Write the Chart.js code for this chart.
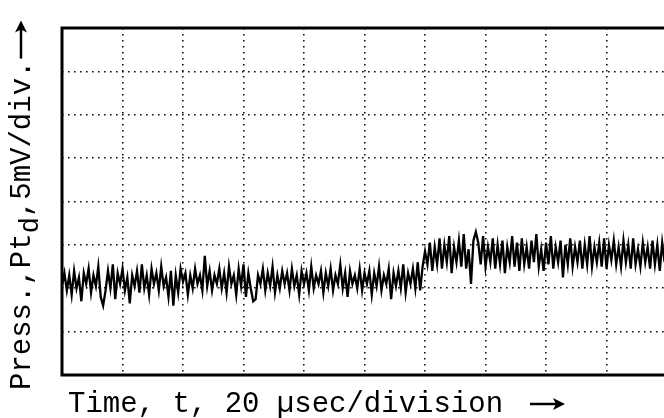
<!DOCTYPE html>
<html>
<head>
<meta charset="utf-8">
<script src="https://cdn.jsdelivr.net/npm/chart.js@4"></script>
<style>
  html, body { margin: 0; padding: 0; background: #fff; }
  #wrap { width: 664px; height: 418px; }
</style>
</head>
<body>
<div id="wrap"><canvas id="scope"></canvas></div>
<script>
// time axis in divisions (20 usec/div), one sample every 0.04 div
const sampleStep = 0.04;
const xTicks = [0, 1, 2, 3, 4, 5, 6, 7, 8, 9];
const yTicks = [0, 1, 2, 3, 4, 5, 6, 7, 8];

// trace before the pressure rise (divisions, 5 mV/div)
const before = [
  2.05, 2.35, 1.95, 2.30, 1.85, 2.40, 2.00, 2.25, 1.70, 2.35,
  2.10, 2.45, 1.90, 2.30, 2.05, 2.50, 1.80, 1.60, 1.95, 2.40,
  2.00, 2.55, 1.75, 2.35, 2.10, 2.45, 1.95, 2.25, 1.65, 2.30,
  2.05, 2.40, 1.90, 2.55, 2.00, 2.30, 1.85, 2.45, 2.10, 2.35,
  1.95, 2.50, 2.05, 2.25, 1.80, 2.40, 1.60, 2.30, 1.90, 2.45,
  2.15, 2.35, 1.85, 2.30, 2.00, 2.45, 2.10, 2.30, 1.95, 2.75,
  2.05, 2.40, 1.95, 2.30, 2.10, 2.45, 2.00, 2.35, 1.90, 2.50,
  2.10, 2.30, 1.85, 2.45, 2.05, 2.55, 1.80, 2.35, 2.00, 1.70,
  1.75, 2.30, 2.10, 2.45, 1.95, 2.35, 2.05, 2.50, 1.90, 2.30,
  2.00, 2.40, 2.10, 2.35, 1.95, 2.45, 2.05, 2.30, 1.85, 2.40,
  2.10, 2.35, 1.95, 2.50, 2.00, 2.30, 2.10, 2.40, 1.90, 2.35,
  2.05, 2.45, 1.95, 2.30, 2.10, 2.55, 2.00, 2.35, 1.80, 2.40,
  2.10, 2.30, 2.00, 2.45, 1.95, 2.35, 2.10, 2.40, 1.85, 2.35,
  2.05, 2.50, 1.95, 2.30, 2.10, 2.45, 1.75, 2.35, 2.05, 2.40,
  2.00, 2.55, 1.90, 2.35, 2.10, 2.45, 2.00, 2.60, 1.95, 2.50
];
// trace after the rise
const after = [
  2.85, 2.55, 3.05, 2.40, 2.95, 2.55, 3.15, 2.45, 3.00, 2.60,
  3.20, 2.35, 2.95, 2.60, 3.10, 2.50, 3.25, 2.45, 2.90, 2.10,
  3.10, 3.30, 3.05, 2.55, 3.20, 2.50, 2.95, 2.60, 3.15, 2.45,
  3.00, 2.55, 3.10, 2.35, 2.95, 2.60, 3.20, 2.50, 3.05, 2.40,
  3.15, 2.55, 2.95, 2.45, 3.10, 2.60, 3.25, 2.50, 2.90, 2.40,
  3.05, 2.55, 3.20, 2.45, 2.95, 2.60, 3.10, 2.25, 3.00, 2.55,
  3.15, 2.50, 2.95, 2.60, 3.10, 2.45, 3.00, 2.55, 3.20, 2.50,
  2.95, 2.60, 3.05, 2.50, 3.15, 2.45, 3.00, 2.65, 3.10, 2.55,
  2.95, 2.50, 3.10, 2.60, 3.00, 2.45, 3.15, 2.55, 2.90, 2.50,
  3.05, 2.60, 2.95, 2.45, 3.10, 2.55, 3.00, 2.40, 3.05, 2.60
];

const trace = before.concat(after).map((v, i) => ({ x: i * sampleStep, y: v }));

const font = '"Liberation Mono", "DejaVu Sans Mono", monospace';

// frame + axis titles (titles need a subscript, so drawn by hand)
const scopeDecor = {
  id: "scopeDecor",
  afterDraw(chart) {
    const { ctx, chartArea: a } = chart;
    ctx.save();
    ctx.strokeStyle = "#000";
    ctx.lineWidth = 3;
    ctx.beginPath();
    ctx.moveTo(a.right, a.top);
    ctx.lineTo(a.left, a.top);
    ctx.lineTo(a.left, a.bottom);
    ctx.lineTo(a.right, a.bottom);
    ctx.stroke();

    ctx.fillStyle = "#000";
    ctx.textBaseline = "alphabetic";
    ctx.font = "29px " + font;
    ctx.fillText("Time, t, 20 \u00b5sec/division", 68, 412);
    drawArrow(ctx, 530, 404, 35);

    ctx.translate(30, 390);
    ctx.rotate(-Math.PI / 2);
    let x = 0;
    ctx.font = "29px " + font;
    ctx.fillText("Press.,Pt", x, 0);
    x += ctx.measureText("Press.,Pt").width;
    ctx.font = "27px " + font;
    ctx.fillText("d", x, 8);
    x += ctx.measureText("d").width;
    ctx.font = "29px " + font;
    ctx.fillText(",5mV/div.", x, 0);
    x += ctx.measureText(",5mV/div.").width;
    drawArrow(ctx, x + 2, -9, 38);
    ctx.restore();
  }
};

function drawArrow(ctx, x, y, len) {
  ctx.save();
  ctx.lineWidth = 2.5;
  ctx.beginPath();
  ctx.moveTo(x, y);
  ctx.lineTo(x + len - 8, y);
  ctx.stroke();
  ctx.beginPath();
  ctx.moveTo(x + len, y);
  ctx.lineTo(x + len - 12, y - 6);
  ctx.lineTo(x + len - 9, y);
  ctx.lineTo(x + len - 12, y + 6);
  ctx.closePath();
  ctx.fill();
  ctx.restore();
}

const gridStyle = {
  color: "#111",
  lineWidth: 1.6,
  drawTicks: false,
};

new Chart(document.getElementById("scope"), {
  type: "line",
  data: {
    datasets: [
      {
        data: trace,
        borderColor: "#000",
        borderWidth: 2.3,
        pointRadius: 0,
        tension: 0,
      },
    ],
  },
  options: {
    responsive: true,
    maintainAspectRatio: false,
    animation: false,
    layout: { padding: { top: 28, left: 0, right: 0, bottom: 0 } },
    plugins: { legend: { display: false }, tooltip: { enabled: false } },
    scales: {
      x: {
        type: "linear",
        min: 0,
        max: 9.95,
        afterBuildTicks: (s) => { s.ticks = xTicks.map((v) => ({ value: v })); },
        afterFit: (s) => { s.height = 43; },
        ticks: { display: false },
        grid: gridStyle,
        border: { display: false, dash: [1.6, 4.4] },
      },
      y: {
        min: 0,
        max: 8,
        afterBuildTicks: (s) => { s.ticks = yTicks.map((v) => ({ value: v })); },
        afterFit: (s) => { s.width = 62; },
        ticks: { display: false },
        grid: gridStyle,
        border: { display: false, dash: [1.6, 4.4] },
      },
    },
  },
  plugins: [scopeDecor],
});
</script>
</body>
</html>
